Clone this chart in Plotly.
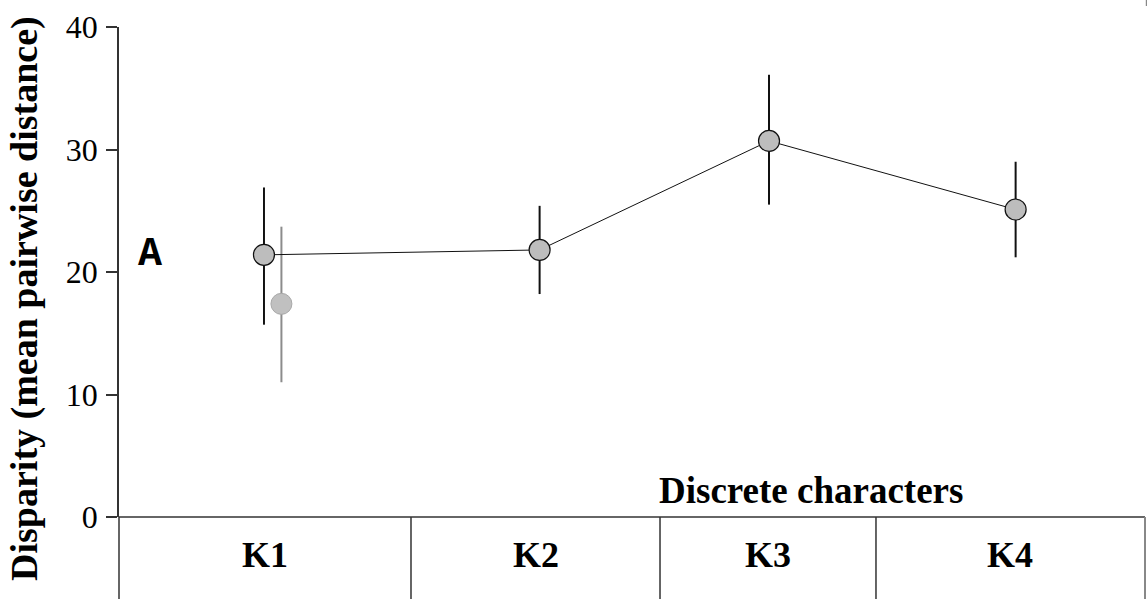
import plotly.graph_objects as go

# ---- data ----
categories = ["K1", "K2", "K3", "K4"]
disparity = [21.4, 21.8, 30.7, 25.1]
err_upper = [26.9, 25.4, 36.1, 29.0]
err_lower = [15.7, 18.2, 25.5, 21.2]

grey_category = "K1"
grey_value = 17.4
grey_upper = 23.7
grey_lower = 11.0

y_ticks = [0, 10, 20, 30, 40]

# ---- layout helpers (x axis spans the table width, 0..1) ----
cell_edges = [0.0, 0.2846, 0.5273, 0.7378, 1.0]
centers = [(cell_edges[i] + cell_edges[i + 1]) / 2 for i in range(len(categories))]
point_shift = [-0.001, 0.004, 0.001, 0.005]   # small placement offsets within each cell
point_x = [c + s for c, s in zip(centers, point_shift)]
grey_offset = 0.017
gx = point_x[categories.index(grey_category)] + grey_offset

fig = go.Figure()

fig.add_trace(go.Scatter(
    x=[gx], y=[grey_value], mode="markers",
    marker=dict(size=21, color="#c0c0c0", line=dict(color="#a8a8a8", width=1)),
    error_y=dict(type="data", symmetric=False,
                 array=[grey_upper - grey_value], arrayminus=[grey_value - grey_lower],
                 color="#8c8c8c", thickness=2, width=0),
    showlegend=False, cliponaxis=False,
))

fig.add_trace(go.Scatter(
    x=point_x, y=disparity, mode="lines+markers",
    line=dict(color="#111111", width=1),
    marker=dict(size=21, color="#bdbdbd", line=dict(color="#111111", width=1.2)),
    error_y=dict(type="data", symmetric=False,
                 array=[u - v for u, v in zip(err_upper, disparity)],
                 arrayminus=[v - l for v, l in zip(disparity, err_lower)],
                 color="#111111", thickness=2, width=0),
    showlegend=False, cliponaxis=False,
))

serif = "Liberation Serif, Times New Roman, serif"
shapes = []
line_col = "#333333"
bottom = -0.1673
# x axis baseline across the table
shapes.append(dict(type="line", xref="paper", yref="paper", x0=0, x1=1, y0=0, y1=0,
                   line=dict(color=line_col, width=1.5)))
# vertical dividers
for e in cell_edges:
    shapes.append(dict(type="line", xref="paper", yref="paper", x0=e, x1=e, y0=bottom, y1=0,
                       line=dict(color=line_col if e < 1 else "#888888", width=1.5 if e < 1 else 2)))
# tiny mark top right
shapes.append(dict(type="line", xref="paper", yref="paper", x0=1.0015, x1=1.0015, y0=1.043, y1=1.056,
                   line=dict(color="#888888", width=1.5)))

annotations = []
for c, cx in zip(categories, centers):
    annotations.append(dict(text="<b>%s</b>" % c, xref="paper", yref="paper", x=cx, y=-0.0776,
                            showarrow=False, xanchor="center", yanchor="middle",
                            font=dict(family=serif, size=36, color="black")))
annotations.append(dict(text="<b>Discrete characters</b>", xref="paper", yref="paper",
                        x=0.674, y=0.055, showarrow=False, xanchor="center", yanchor="middle",
                        font=dict(family=serif, size=37, color="black")))
annotations.append(dict(text="<b>A</b>", xref="paper", yref="paper", x=0.030, y=0.535,
                        showarrow=False, xanchor="center", yanchor="middle",
                        font=dict(family="Liberation Mono, Courier New, monospace", size=40, color="black")))
annotations.append(dict(text="<b>Disparity (mean pairwise distance)</b>", xref="paper", yref="paper",
                        x=-0.0916, y=0.445, showarrow=False, xanchor="center", yanchor="middle",
                        textangle=-90, font=dict(family=serif, size=38, color="black")))

fig.update_layout(
    width=1147, height=599,
    margin=dict(l=119, r=2, t=27, b=82),
    paper_bgcolor="white", plot_bgcolor="white",
    xaxis=dict(range=[0, 1], showgrid=False, zeroline=False, showticklabels=False,
               showline=False, ticks="", fixedrange=True),
    yaxis=dict(range=[0, 40], tickvals=y_ticks, showgrid=False, zeroline=False,
               showline=True, linecolor=line_col, linewidth=1.5,
               ticks="outside", ticklen=11, tickcolor=line_col, tickwidth=1.5,
               tickfont=dict(family=serif, size=32, color="black"), ticklabelstandoff=2),
    shapes=shapes, annotations=annotations,
)

fig.write_html("out.html", config={"displayModeBar": False},
               post_script="document.body.style.margin='0';")
